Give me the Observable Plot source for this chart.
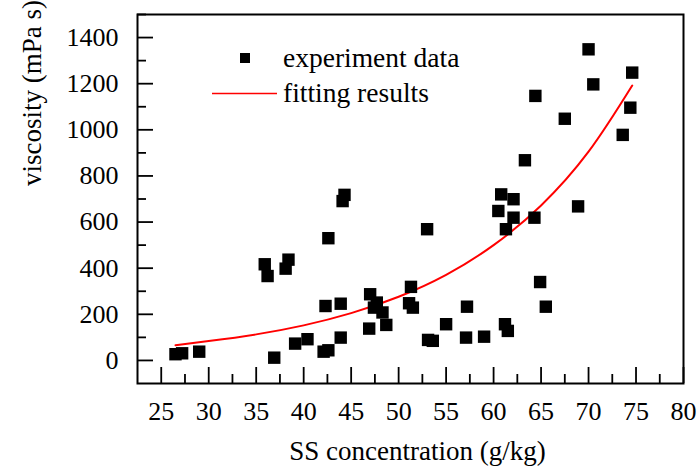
<!DOCTYPE html>
<html><head><meta charset="utf-8">
<script src="https://cdn.jsdelivr.net/npm/d3@7"></script>
<script src="https://cdn.jsdelivr.net/npm/@observablehq/plot@0.6"></script>
<style>
body{margin:0;background:#fff}
svg, svg text { font-family: "Liberation Serif", "DejaVu Serif", serif !important; }
</style>
</head><body><div id="chart"></div>
<script>
// Experiment data
const ssConc = [26.5, 27.2, 29.0, 35.9, 36.2, 36.9, 38.1, 38.4, 39.1, 40.4,
  42.1, 42.6, 42.3, 42.6, 43.9, 43.9, 44.1, 44.3, 46.9, 47.0,
  47.7, 47.4, 48.3, 48.7, 51.3, 51.1, 51.5, 53.0, 57.2, 55.0,
  53.1, 53.6, 57.1, 59.0, 60.8, 62.1, 60.5, 62.1, 61.3, 64.3,
  68.9, 64.9, 65.5, 61.2, 61.5, 70.0, 74.6, 70.5, 64.4, 74.4,
  67.5, 73.6, 63.3];
const viscosity = [27, 31, 38, 417, 366, 12, 398, 437, 73, 92,
  38, 44, 236, 530, 246, 99, 691, 718, 138, 287,
  251, 229, 208, 154, 319, 248, 229, 569, 233, 157,
  89, 85, 99, 103, 720, 699, 648, 619, 569, 619,
  668, 340, 233, 157, 128, 1349, 1248, 1197, 1147, 1096,
  1048, 978, 868];
// Fitting curve
const fitX = [26.5, 30, 35, 40, 45, 50, 55, 60, 65, 70, 74.6];
const fitY = [66, 84, 113, 152, 205, 276, 371, 500, 672, 905, 1192];
// Ticks
const xMajor = [25, 30, 35, 40, 45, 50, 55, 60, 65, 70, 75, 80];
const xMinor = [27.5, 32.5, 37.5, 42.5, 47.5, 52.5, 57.5, 62.5, 67.5, 72.5, 77.5];
const yMajor = [0, 200, 400, 600, 800, 1000, 1200, 1400];
const yMinor = [100, 300, 500, 700, 900, 1100, 1300, 1500];
const xLabel = "SS concentration (g/kg)";
const yLabel = "viscosity (mPa s)";
const legendLabels = ["experiment data", "fitting results"];

const points = ssConc.map((x, i) => ({x, y: viscosity[i]}));
const fit = fitX.map((x, i) => ({x, y: fitY[i]}));

const W = 700, H = 467, ML = 137, MR = 17, MT = 14, MB = 84;
const innerW = W - ML - MR, innerH = H - MT - MB;
const font = '"Liberation Serif", "DejaVu Serif", serif';

const svg = Plot.plot({
  width: W, height: H,
  marginLeft: ML, marginRight: MR, marginTop: MT, marginBottom: MB,
  style: {fontFamily: font, fontSize: "26px", color: "black", background: "white", overflow: "visible"},
  x: {domain: [22.5, 80]},
  y: {domain: [-100, 1500]},
  marks: [
    Plot.tickX(xMajor, {x: d => d, insetTop: innerH - 16, stroke: "black", strokeWidth: 1.8}),
    Plot.tickX(xMinor, {x: d => d, insetTop: innerH - 9, stroke: "black", strokeWidth: 1.8}),
    Plot.tickY(yMajor, {y: d => d, insetRight: innerW - 16, stroke: "black", strokeWidth: 1.8}),
    Plot.tickY(yMinor, {y: d => d, insetRight: innerW - 9, stroke: "black", strokeWidth: 1.8}),
    Plot.axisX(xMajor, {tickSize: 0, tickPadding: 18, label: null, fontSize: 26, fill: "black", tickFormat: d => String(d)}),
    Plot.axisY(yMajor, {tickSize: 0, tickPadding: 19, label: null, fontSize: 26, fill: "black", tickFormat: d => String(d)}),
    Plot.line(fit, {x: "x", y: "y", stroke: "#ff0000", strokeWidth: 2, curve: "natural"}),
    Plot.dot(points, {x: "x", y: "y", symbol: "square", r: 7, fill: "black", stroke: null}),
    Plot.frame({stroke: "black", strokeWidth: 2}),
    Plot.text([xLabel], {text: d => d, frameAnchor: "bottom", dx: 7, dy: 76, lineAnchor: "bottom", fontSize: 27, fill: "black"}),
    Plot.text([yLabel], {text: d => d, frameAnchor: "left", rotate: -90, dx: -116, dy: -13, lineAnchor: "top", fontSize: 27, fill: "black"})
  ]
});
svg.setAttribute("font-family", font);

const s = d3.select(svg);
const lg = s.append("g").attr("font-family", font).attr("font-size", 27.5).attr("fill", "black").attr("text-anchor", "start");
lg.append("rect").attr("x", 240).attr("y", 53).attr("width", 10).attr("height", 10).attr("fill", "black");
lg.append("text").attr("x", 283).attr("y", 67).text(legendLabels[0]);
lg.append("line").attr("x1", 212).attr("x2", 277).attr("y1", 93.5).attr("y2", 93.5).attr("stroke", "#ff0000").attr("stroke-width", 1.6);
lg.append("text").attr("x", 283).attr("y", 102).text(legendLabels[1]);

document.getElementById("chart").appendChild(svg);
</script>
</body></html>
